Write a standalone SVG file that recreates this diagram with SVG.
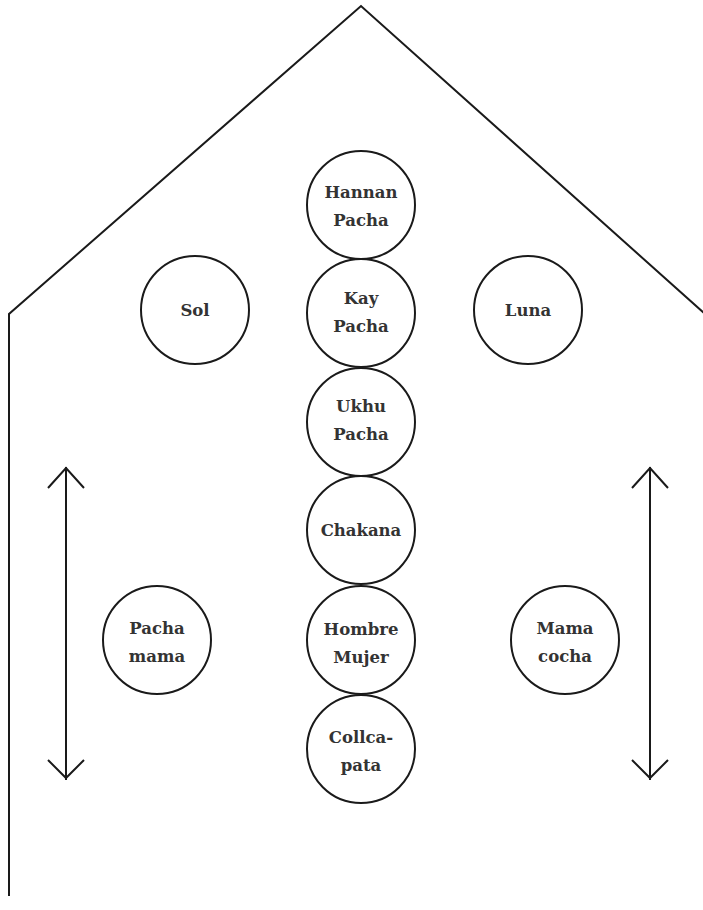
<svg xmlns="http://www.w3.org/2000/svg" width="703" height="910" viewBox="0 0 703 910">
<style>
.o{fill:none;stroke:#1a1a1a;stroke-width:2}
.c{fill:#fff;stroke:#1a1a1a;stroke-width:2}
text{font-family:"DejaVu Serif","Liberation Serif",serif;font-size:16.5px;font-weight:bold;fill:#333;text-anchor:middle}
</style>
<rect width="703" height="910" fill="#fff"/>
<g id="house"><polyline class="o" points="9,896 9,314 361,6 705,314"/></g>
<g id="connectors">
<line class="o" x1="66" y1="467" x2="66" y2="780"/>
<polyline class="o" points="48,488 66,468 84,488"/>
<polyline class="o" points="48,760 66,778 84,760"/>
<line class="o" x1="650" y1="467" x2="650" y2="780"/>
<polyline class="o" points="632,488 650,468 668,488"/>
<polyline class="o" points="632,760 650,778 668,760"/>
</g>
<g id="hannan"><circle class="c" cx="361" cy="205" r="54"/><text x="361" y="198">Hannan</text><text x="361" y="226">Pacha</text></g>
<g id="kay"><circle class="c" cx="361" cy="313" r="54"/><text x="361" y="304">Kay</text><text x="361" y="332">Pacha</text></g>
<g id="ukhu"><circle class="c" cx="361" cy="422" r="54"/><text x="361" y="412">Ukhu</text><text x="361" y="440">Pacha</text></g>
<g id="chakana"><circle class="c" cx="361" cy="530" r="54"/><text x="361" y="536">Chakana</text></g>
<g id="hombre"><circle class="c" cx="361" cy="640" r="54"/><text x="361" y="635">Hombre</text><text x="361" y="663">Mujer</text></g>
<g id="collca"><circle class="c" cx="361" cy="749" r="54"/><text x="361" y="743">Collca-</text><text x="361" y="771">pata</text></g>
<g id="sol"><circle class="c" cx="195" cy="310" r="54"/><text x="195" y="316">Sol</text></g>
<g id="luna"><circle class="c" cx="528" cy="310" r="54"/><text x="528" y="316">Luna</text></g>
<g id="pachamama"><circle class="c" cx="157" cy="640" r="54"/><text x="157" y="634">Pacha</text><text x="157" y="662">mama</text></g>
<g id="mamacocha"><circle class="c" cx="565" cy="640" r="54"/><text x="565" y="634">Mama</text><text x="565" y="662">cocha</text></g>
</svg>
